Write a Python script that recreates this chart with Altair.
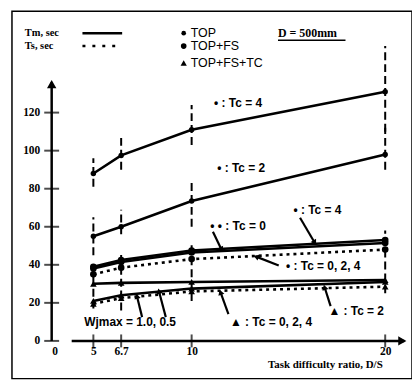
import altair as alt
import pandas as pd
import numpy as np

# ---------------- data ----------------
x_vals = [5, 6.7, 10, 20]
top_tc4 = [88, 97.5, 111, 131]
top_tc2 = [55, 60, 73.5, 98]
fs_tc4_tm = [39, 42.5, 47.5, 53]
fs_tc0_tm = [38, 41.5, 46.5, 51.5]
fs_ts = [35, 38.5, 43, 48]
tc_tm = [30, 30.5, 31, 32]
tc_wj_tm = [21, 24, 27.5, 31]
tc_ts = [19.5, 22.5, 26, 28.5]

bar_x = [5, 6.7, 10, 20] * 3
bar_lo = [81, 90, 103, 110, 45, 56, 60, 90, 17, 16, 21, 25]
bar_hi = [96, 108, 124, 155, 65, 69, 85, 112, 42, 47, 52, 58]

x_ticks = [0, 5, 6.7, 10, 20]
y_ticks = [0, 20, 40, 60, 80, 100, 120]

note_text = ["• : Tc = 4", "• : Tc = 2", "• • : Tc = 0", "• : Tc = 4",
             "• : Tc = 0, 2, 4", "▲ : Tc = 2", "▲ : Tc = 0, 2, 4", "Wjmax = 1.0, 0.5"]
note_x = [12.4, 12.56, 12.4, 16.5, 16.8, 18.5, 14.1, 7.12]
note_y = [125.2, 90.8, 60.5, 68.9, 39.1, 15.6, 9.9, 9.9]

arrow_x = [11.1, 15.6, 14.5, 17.18, 11.9, 7.68, 8.79]
arrow_y = [57.4, 64.7, 39.6, 18.3, 14.1, 12.5, 12.5]
arrow_x2 = [11.54, 16.36, 13.33, 16.87, 11.49, 7.44, 8.47]
arrow_y2 = [48.0, 51.6, 44.3, 28.2, 25.6, 23.5, 26.1]

legend_labels = ["Tm, sec", "Ts, sec"]
legend_series = ["TOP", "TOP+FS", "TOP+FS+TC"]

# ---------------- scales ----------------
X_DOM = [0, 5, 6.7, 10, 20, 21.2]
X_RNG = [40, 82, 110, 181, 376, 399]
Y_DOM = [0, 138]
Y_RNG = [332, 67.5]
W, H = 403, 370

xs = alt.Scale(domain=X_DOM, range=X_RNG, zero=False, nice=False)
ys = alt.Scale(domain=Y_DOM, range=Y_RNG, zero=False, nice=False)

xaxis = alt.Axis(values=x_ticks, format="~g", domain=False, ticks=False, grid=False,
                 offset=-(H - 332), labelPadding=5, title="Task difficulty ratio, D/S",
                 titleX=373, titleY=24, titleAlign="right", titleAnchor="start",
                 titleBaseline="middle", titleFont="Liberation Serif", titleFontSize=11,
                 titleFontWeight="bold", titleColor="black")
yaxis = alt.Axis(values=y_ticks, format="d", domain=False, ticks=False, grid=False,
                 offset=-40, labelPadding=12, title=None)


def X(f):
    return alt.X(f, type="quantitative", scale=xs, axis=xaxis)


def Y(f):
    return alt.Y(f, type="quantitative", scale=ys, axis=yaxis)


def long(series):
    rows = []
    for name, vals in series.items():
        for xv, yv in zip(x_vals, vals):
            rows.append({"x": xv, "y": yv, "s": name})
    return pd.DataFrame(rows)


solid = long({"top4": top_tc4, "top2": top_tc2, "fs4": fs_tc4_tm, "fs0": fs_tc0_tm,
              "tc": tc_tm, "tcwj": tc_wj_tm})
dotted = long({"fsts": fs_ts, "tcts": tc_ts})
pts_top = long({"top4": top_tc4, "top2": top_tc2})
pts_fs = long({"fs4": fs_tc4_tm, "fs0": fs_tc0_tm, "fsts": fs_ts})
pts_tc = long({"tc": tc_tm, "tcwj": tc_wj_tm, "tcts": tc_ts})

bars = pd.DataFrame({"x": bar_x, "lo": bar_lo, "hi": bar_hi})
notes = pd.DataFrame({"x": note_x, "y": note_y, "t": note_text})


def to_px(xv, yv):
    return np.interp(xv, X_DOM, X_RNG), np.interp(yv, Y_DOM, Y_RNG)


ax_ = np.array(arrow_x); ay_ = np.array(arrow_y)
ax2 = np.array(arrow_x2); ay2 = np.array(arrow_y2)
p1x, p1y = to_px(ax_, ay_)
p2x, p2y = to_px(ax2, ay2)
ang = (np.degrees(np.arctan2(p2x - p1x, -(p2y - p1y))) + 360) % 360
arrows = pd.DataFrame({"x": arrow_x, "y": arrow_y, "x2": arrow_x2, "y2": arrow_y2, "a": ang})

axes_y = pd.DataFrame({"x": [0], "y": [0], "y2": [136]})
axes_x = pd.DataFrame({"x": [2.4], "x2": [21.0], "y": [0]})
ytick_df = pd.DataFrame({"x": [0] * len(y_ticks), "y": y_ticks})
xtick_df = pd.DataFrame({"x": x_ticks[1:], "y": [0] * (len(x_ticks) - 1)})

layers = []
# axis lines
layers.append(alt.Chart(axes_y).mark_rule(strokeWidth=2.5, color="black").encode(
    x=X("x"), y=Y("y"), y2="y2"))
layers.append(alt.Chart(axes_x).mark_rule(strokeWidth=2.5, color="black").encode(
    x=X("x"), x2="x2", y=Y("y")))
layers.append(alt.Chart(pd.DataFrame({"x": [0], "y": [135]})).mark_point(
    shape="triangle-up", filled=True, size=90, color="black", opacity=1).encode(x=X("x"), y=Y("y")))
layers.append(alt.Chart(pd.DataFrame({"x": [20.9], "y": [0]})).mark_point(
    shape="triangle-right", filled=True, size=90, color="black", opacity=1).encode(x=X("x"), y=Y("y")))
layers.append(alt.Chart(ytick_df).mark_tick(orient="horizontal", size=15, thickness=2, color="black").encode(
    x=X("x"), y=Y("y")))
layers.append(alt.Chart(xtick_df).mark_tick(orient="vertical", size=13, thickness=2, color="black").encode(
    x=X("x"), y=Y("y")))

# error bars
layers.append(alt.Chart(bars).mark_rule(strokeWidth=2, color="black", strokeDash=[8, 4]).encode(
    x=X("x"), y=Y("lo"), y2="hi"))

# lines
layers.append(alt.Chart(solid).mark_line(strokeWidth=2.6, color="black").encode(
    x=X("x"), y=Y("y"), detail="s:N"))
layers.append(alt.Chart(dotted).mark_line(strokeWidth=2.6, color="black", strokeDash=[3, 4]).encode(
    x=X("x"), y=Y("y"), detail="s:N"))

# markers
layers.append(alt.Chart(pts_top).mark_point(shape="circle", filled=True, size=30, color="black", opacity=1).encode(
    x=X("x"), y=Y("y")))
layers.append(alt.Chart(pts_fs).mark_point(shape="circle", filled=True, size=45, color="black", opacity=1).encode(
    x=X("x"), y=Y("y")))
layers.append(alt.Chart(pts_tc).mark_point(shape="triangle-up", filled=True, size=45, color="black", opacity=1).encode(
    x=X("x"), y=Y("y")))

# annotation arrows
layers.append(alt.Chart(arrows).mark_rule(strokeWidth=2.2, color="black").encode(
    x=X("x"), y=Y("y"), x2="x2", y2="y2"))
layers.append(alt.Chart(arrows).mark_point(shape="triangle-up", filled=True, size=40, color="black", opacity=1).encode(
    x=X("x2"), y=Y("y2"), angle=alt.Angle("a:Q", scale=None)))

# annotation texts
layers.append(alt.Chart(notes).mark_text(font="Liberation Sans", fontWeight="bold", fontSize=12,
                                         align="center", baseline="middle", color="black").encode(
    x=X("x"), y=Y("y"), text="t:N"))

# ---------------- legend (pixel positions) ----------------
leg_txt = pd.DataFrame({"px": [13, 13], "py": [22, 35], "t": legend_labels})
layers.append(alt.Chart(leg_txt).mark_text(font="Liberation Serif", fontWeight="bold", fontSize=10.5,
                                           align="left", baseline="middle", color="black").encode(
    x=alt.X("px:Q", scale=None), y=alt.Y("py:Q", scale=None), text="t:N"))
layers.append(alt.Chart(pd.DataFrame({"px": [71], "px2": [111], "py": [22]})).mark_rule(
    strokeWidth=2.5, color="black").encode(x=alt.X("px:Q", scale=None), x2="px2:Q", y=alt.Y("py:Q", scale=None)))
layers.append(alt.Chart(pd.DataFrame({"px": [71], "px2": [111], "py": [35]})).mark_rule(
    strokeWidth=2.5, color="black", strokeDash=[3, 7]).encode(x=alt.X("px:Q", scale=None), x2="px2:Q",
                                                             y=alt.Y("py:Q", scale=None)))
leg_ser = pd.DataFrame({"px": [180, 180, 180], "py": [22, 35, 52], "t": legend_series})
layers.append(alt.Chart(leg_ser).mark_text(font="Liberation Sans", fontSize=12.5,
                                           align="left", baseline="middle", color="black").encode(
    x=alt.X("px:Q", scale=None), y=alt.Y("py:Q", scale=None), text="t:N"))
layers.append(alt.Chart(pd.DataFrame({"px": [173], "py": [22]})).mark_point(
    shape="circle", filled=True, size=22, color="black", opacity=1).encode(
    x=alt.X("px:Q", scale=None), y=alt.Y("py:Q", scale=None)))
layers.append(alt.Chart(pd.DataFrame({"px": [173], "py": [35]})).mark_point(
    shape="circle", filled=True, size=32, color="black", opacity=1).encode(
    x=alt.X("px:Q", scale=None), y=alt.Y("py:Q", scale=None)))
layers.append(alt.Chart(pd.DataFrame({"px": [173], "py": [52]})).mark_point(
    shape="triangle-up", filled=True, size=40, color="black", opacity=1).encode(
    x=alt.X("px:Q", scale=None), y=alt.Y("py:Q", scale=None)))
layers.append(alt.Chart(pd.DataFrame({"px": [268], "py": [22], "t": ["D = 500mm"]})).mark_text(
    font="Liberation Serif", fontWeight="bold", fontSize=12, align="left", baseline="middle", color="black").encode(
    x=alt.X("px:Q", scale=None), y=alt.Y("py:Q", scale=None), text="t:N"))
layers.append(alt.Chart(pd.DataFrame({"px": [268], "px2": [336], "py": [29]})).mark_rule(
    strokeWidth=1.5, color="black").encode(x=alt.X("px:Q", scale=None), x2="px2:Q", y=alt.Y("py:Q", scale=None)))

chart = alt.layer(*layers).properties(
    width=W, height=H, autosize="none",
    padding={"left": 4, "top": 2, "right": 0, "bottom": 0},
).configure_view(stroke="black", strokeWidth=1.5).configure_axis(
    labelFont="Liberation Serif", labelFontWeight="bold", labelFontSize=11.5, labelColor="black"
)

chart.save("out.html", embed_options={"renderer": "svg", "actions": False})
